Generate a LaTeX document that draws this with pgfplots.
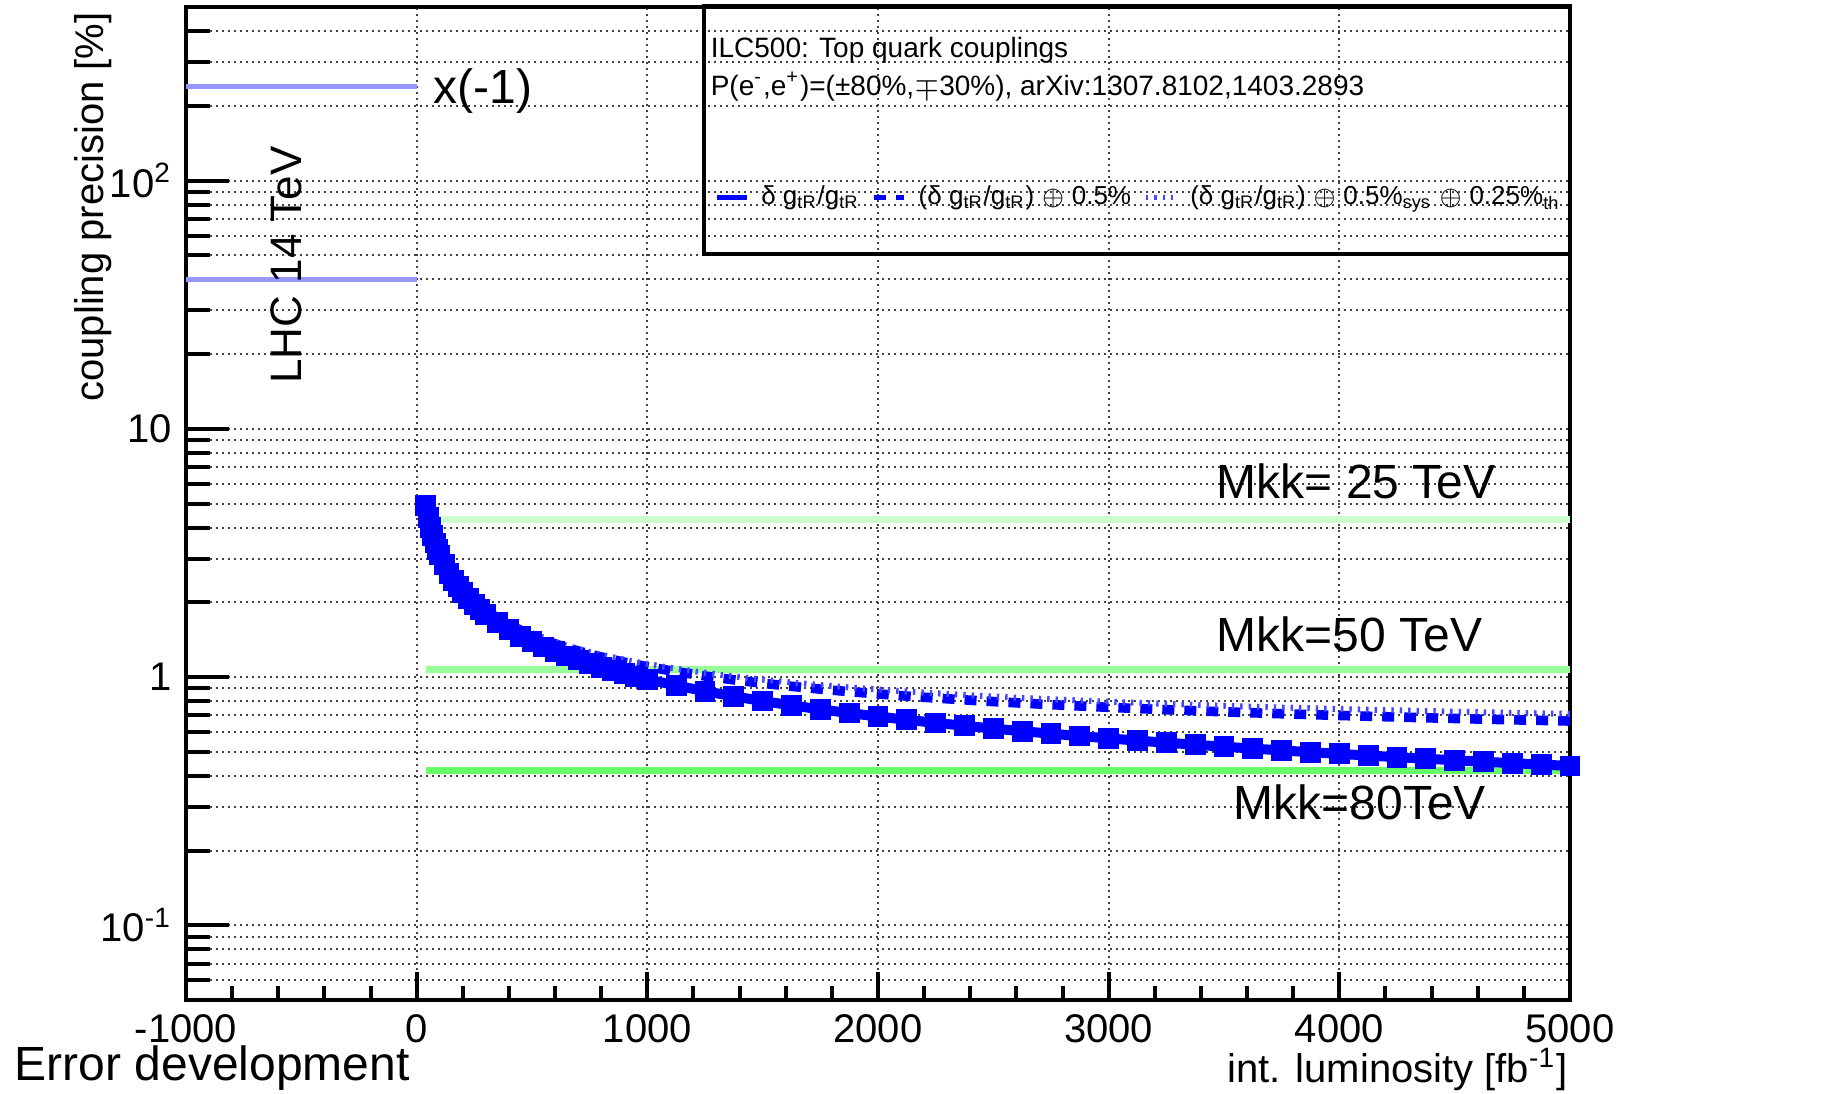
\documentclass[border=0pt]{standalone}
\usepackage{fontspec}
\setmainfont{Liberation Sans}
\usepackage{pgfplots}
\pgfplotsset{compat=1.18}
\definecolor{lhcblue}{RGB}{150,150,255}
\definecolor{mkkA}{RGB}{204,255,204}
\definecolor{mkkB}{RGB}{153,255,153}
\definecolor{mkkC}{RGB}{102,255,102}
\definecolor{thblue}{RGB}{70,70,255}

\begin{document}
\begin{tikzpicture}
\useasboundingbox (-46.5pt,-23.5pt) rectangle (409.5pt,250pt);
\begin{axis}[
    at={(0,0)}, anchor=south west,
    scale only axis, width=346pt, height=248.25pt,
    xmin=-1000, xmax=5000,
    ymode=log, ymin=0.05, ymax=500,
    xtick={-1000,0,1000,2000,3000,4000,5000},
    minor x tick num=4,
    ytick={0.1,1,10,100},
    yticklabels={10\textsuperscript{-1},1,10,10\textsuperscript{2}},
    minor ytick={0.06,0.07,0.08,0.09,0.2,0.3,0.4,0.5,0.6,0.7,0.8,0.9,
                 2,3,4,5,6,7,8,9,20,30,40,50,60,70,80,90,200,300,400},
    xtick pos=left, ytick pos=left,
    tick align=inside,
    major tick length=10.75pt, minor tick length=6pt,
    xtick style={/pgfplots/major tick length=7pt, /pgfplots/minor tick length=3.5pt},
    every tick/.style={black, line width=1pt},
    axis line style={black, line width=1pt},
    xmajorgrids, ymajorgrids, yminorgrids,
    grid style={black!75, line width=0.5pt, dash pattern=on 0.5pt off 1pt},
    /pgf/number format/assume math mode=true,
    /pgf/number format/1000 sep={},
    tick label style={font=\fontsize{10}{12}\selectfont},
    legend columns=3,
    legend style={at={(0.381,0.808)}, anchor=west, draw=none, fill=none,
        inner sep=0pt, font=\fontsize{6.5}{8}\selectfont,
        /tikz/every odd column/.append style={column sep=1pt},
        /tikz/every even column/.append style={column sep=1pt}},
    legend image code/.code={\draw[#1, mark=none, line width=1.3pt] (0pt,0pt) -- (7.5pt,0pt);},
]
% LHC 14 TeV
\addplot[lhcblue, line width=1.3pt, forget plot] coordinates {(-1000,240) (0,240)};
\addplot[lhcblue, line width=1.3pt, forget plot] coordinates {(-1000,40) (0,40)};
% Mkk reference lines
\addplot[mkkA, line width=1.7pt, forget plot] coordinates {(40,4.3) (5000,4.3)};
\addplot[mkkB, line width=1.7pt, forget plot] coordinates {(40,1.075) (5000,1.075)};
\addplot[mkkC, line width=1.7pt, forget plot] coordinates {(40,0.42) (5000,0.42)};

% delta g / g
\addplot[blue, line width=2.5pt, mark=square*, mark size=1.35pt, mark options={solid}] coordinates {
(40,4.9016) (50,4.3841) (60,4.0021) (70,3.7052) (80,3.4659) (90,3.2677)
(100,3.1) (120,2.8299) (140,2.6200) (160,2.4508) (180,2.3106) (200,2.1920)
(225,2.0667) (250,1.9606) (275,1.8694) (300,1.7898) (350,1.6570) (400,1.55)
(450,1.4614) (500,1.3864) (550,1.3218) (600,1.2656) (650,1.2159) (700,1.1717)
(750,1.1320) (800,1.0960) (850,1.0633) (900,1.0333) (950,1.0058) (1000,0.9803)
(1125,0.9242) (1250,0.8768) (1375,0.8360) (1500,0.8004) (1625,0.7690) (1750,0.7410)
(1875,0.7159) (2000,0.6932) (2125,0.6725) (2250,0.6535) (2375,0.6361) (2500,0.62)
(2625,0.6051) (2750,0.5912) (2875,0.5782) (3000,0.5660) (3125,0.5545) (3250,0.5438)
(3375,0.5336) (3500,0.5240) (3625,0.5149) (3750,0.5062) (3875,0.4980) (4000,0.4902)
(4125,0.4827) (4250,0.4755) (4375,0.4687) (4500,0.4621) (4625,0.4558) (4750,0.4498)
(4875,0.4440) (5000,0.4384)
};
\addlegendentry{δ g\textsubscript{tR}/g\textsubscript{tR}}

% with 0.5% added
\addplot[blue, line width=2.4pt, dash pattern=on 3pt off 2.5pt] coordinates {
(40,4.9271) (50,4.4125) (60,4.0332) (70,3.7387) (80,3.5018) (90,3.3057)
(100,3.1401) (120,2.8737) (140,2.6673) (160,2.5013) (180,2.3641) (200,2.2483)
(225,2.1263) (250,2.0234) (275,1.9351) (300,1.8583) (350,1.7308) (400,1.6287)
(450,1.5446) (500,1.4738) (550,1.4132) (600,1.3608) (650,1.3147) (700,1.2739)
(750,1.2375) (800,1.2047) (850,1.1750) (900,1.1479) (950,1.1232) (1000,1.1005)
(1125,1.0508) (1250,1.0094) (1375,0.9741) (1500,0.9437) (1625,0.9173) (1750,0.8939)
(1875,0.8732) (2000,0.8547) (2125,0.8380) (2250,0.8229) (2375,0.8091) (2500,0.7965)
(2625,0.7849) (2750,0.7743) (2875,0.7644) (3000,0.7552) (3125,0.7467) (3250,0.7387)
(3375,0.7312) (3500,0.7243) (3625,0.7177) (3750,0.7115) (3875,0.7057) (4000,0.7002)
(4125,0.6950) (4250,0.6900) (4375,0.6853) (4500,0.6808) (4625,0.6766) (4750,0.6725)
(4875,0.6687) (5000,0.6650)
};
\addlegendentry{(δ g\textsubscript{tR}/g\textsubscript{tR}) $\oplus$ 0.5\%}

% with 0.5% sys and 0.25% th added
\addplot[thblue, line width=1.5pt, dash pattern=on 0.6pt off 1.5pt] coordinates {
(40,4.9334) (50,4.4196) (60,4.0410) (70,3.7471) (80,3.5108) (90,3.3152)
(100,3.1500) (120,2.8846) (140,2.6790) (160,2.5137) (180,2.3773) (200,2.2622)
(225,2.1410) (250,2.0388) (275,1.9512) (300,1.8751) (350,1.7487) (400,1.6477)
(450,1.5647) (500,1.4949) (550,1.4352) (600,1.3836) (650,1.3382) (700,1.2982)
(750,1.2625) (800,1.2303) (850,1.2013) (900,1.1748) (950,1.1507) (1000,1.1285)
(1125,1.0801) (1250,1.0399) (1375,1.0057) (1500,0.9763) (1625,0.9507) (1750,0.9282)
(1875,0.9083) (2000,0.8905) (2125,0.8745) (2250,0.8600) (2375,0.8468) (2500,0.8348)
(2625,0.8238) (2750,0.8136) (2875,0.8042) (3000,0.7955) (3125,0.7874) (3250,0.7799)
(3375,0.7728) (3500,0.7662) (3625,0.7600) (3750,0.7541) (3875,0.7487) (4000,0.7435)
(4125,0.7386) (4250,0.7339) (4375,0.7295) (4500,0.7253) (4625,0.7213) (4750,0.7175)
(4875,0.7139) (5000,0.7104)
};
\addlegendentry{(δ g\textsubscript{tR}/g\textsubscript{tR}) $\oplus$ 0.5\%\textsubscript{sys} $\oplus$ 0.25\%\textsubscript{th}}
\end{axis}

% legend frame and header
\draw[line width=0.8pt] (129.5pt,186.5pt) rectangle (346pt,248.5pt);
\node[anchor=base west, inner sep=0pt, font=\fontsize{7}{9}\selectfont] at (131pt,235.5pt) {ILC500: Top quark couplings};
\node[anchor=base west, inner sep=0pt, font=\fontsize{7}{9}\selectfont] at (131pt,226.1pt) {P(e\textsuperscript{-},e\textsuperscript{+})=(±80\%,$\mp$30\%), arXiv:1307.8102,1403.2893};

% annotations
\node[rotate=90, anchor=east, inner sep=0pt, font=\fontsize{10}{12}\selectfont] at (-23.25pt,247.1pt) {coupling precision [\%]};
\node[rotate=90, inner sep=0pt, font=\fontsize{11}{13}\selectfont] at (25pt,183.75pt) {LHC 14 TeV};
\node[anchor=west, inner sep=0pt, font=\fontsize{12}{14}\selectfont] at (61.75pt,227.3pt) {x(-1)};
\node[anchor=west, inner sep=0pt, font=\fontsize{12}{14}\selectfont] at (257.5pt,129.6pt) {Mkk= 25 TeV};
\node[anchor=west, inner sep=0pt, font=\fontsize{12}{14}\selectfont] at (257.5pt,91.5pt) {Mkk=50 TeV};
\node[anchor=west, inner sep=0pt, font=\fontsize{12}{14}\selectfont] at (261.75pt,49.3pt) {Mkk=80TeV};
\node[anchor=base west, inner sep=0pt, font=\fontsize{12}{14}\selectfont] at (-43pt,-20pt) {Error development};
\node[anchor=base east, inner sep=0pt, font=\fontsize{10}{12}\selectfont] at (345.5pt,-20.5pt) {int. luminosity [fb\textsuperscript{-1}]};
\end{tikzpicture}
\end{document}
